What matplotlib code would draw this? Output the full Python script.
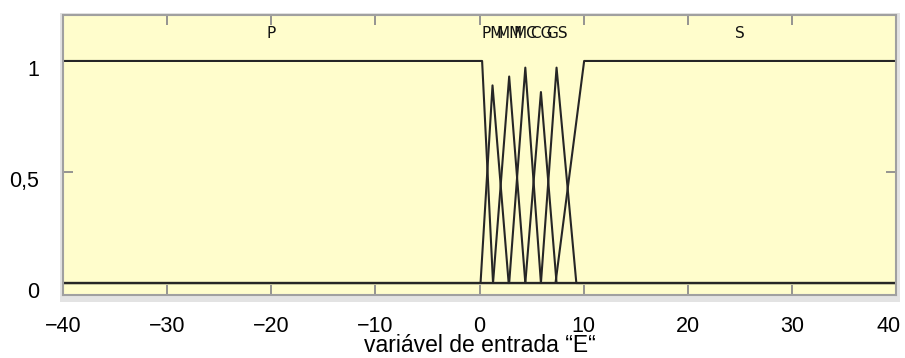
import matplotlib
matplotlib.use("Agg")
import matplotlib.pyplot as plt
from matplotlib.patches import Rectangle
from matplotlib.transforms import ScaledTranslation

# membership functions of input variable "E"
p_x = [-40, 0.25, 1.3, 40]
p_y = [1, 1, 0, 0]
s_x = [-40, 7.3, 10.05, 40]
s_y = [0, 0, 1, 1]

mid_names = ["PM", "MM", "MC", "CG", "GS"]
mid_left = [0.1, 1.3, 2.85, 4.4, 5.9]
mid_peak = [1.25, 2.85, 4.4, 5.9, 7.4]
mid_right = [2.8, 4.4, 5.9, 7.4, 9.3]
mid_height = [0.89, 0.93, 0.97, 0.86, 0.97]

xticks = [-40, -30, -20, -10, 0, 10, 20, 30, 40]
yticks = [0, 0.5, 1]
yticklabels = ["0", "0,5", "1"]

plt.rcParams['font.family'] = ['Liberation Sans', 'DejaVu Sans']

fig = plt.figure(figsize=(9.05, 3.58), dpi=100)
ax = fig.add_axes([63 / 905, 1 - 295 / 358, 833 / 905, 280 / 358])
ax.set_zorder(2)

# light grey border behind the plot box
shadow = Rectangle((60 / 905, 1 - 302 / 358), 840 / 905, 289 / 358,
                   transform=fig.transFigure, facecolor='#e3e3e3',
                   edgecolor='none', zorder=1)
fig.add_artist(shadow)

ax.set_facecolor('#fffdcc')
lc = '#262626'
lw = 1.5

ax.plot(p_x, p_y, color=lc, lw=lw)
ax.plot(s_x, s_y, color=lc, lw=lw)
for l, p, r, h in zip(mid_left, mid_peak, mid_right, mid_height):
    ax.plot([-40, l, p, r, 40], [0, 0, h, 0, 0], color=lc, lw=lw)

# labels above the functions
lab_y = 1.125
ax.text(-20, lab_y, "P", ha='center', va='center', fontsize=11,
        family='DejaVu Sans', color='#111')
ax.text(25, lab_y, "S", ha='center', va='center', fontsize=11,
        family='DejaVu Sans', color='#111')
for name, p in zip(mid_names, mid_peak):
    ax.text(p, lab_y, name, ha='center', va='center', fontsize=11,
            family='DejaVu Sans', color='#111')

ax.set_xlim(-40, 40)
ax.set_ylim(-0.054, 1.207)
ax.set_xticks(xticks)
ax.set_xticklabels([f"{t}".replace('-', '\u2212') for t in xticks])
ax.set_yticks(yticks)
ax.set_yticklabels(yticklabels)

ax.tick_params(axis='both', direction='in', length=7, width=1.3,
               color='#8c8c8c', labelsize=15.5, labelcolor='black')
ax.tick_params(axis='x', top=True, pad=15)
ax.tick_params(axis='y', right=True, pad=17)
for lab in ax.get_yticklabels():
    lab.set_transform(lab.get_transform() +
                      ScaledTranslation(0, -7 / 100, fig.dpi_scale_trans))
# keep the last x label inside the picture
last = ax.get_xticklabels()[-1]
last.set_transform(last.get_transform() +
                   ScaledTranslation(-7 / 100, 0, fig.dpi_scale_trans))

for sp in ax.spines.values():
    sp.set_color('#a0a0a0')
    sp.set_linewidth(1.5)

ax.set_xlabel("variável de entrada \u201cE\u201c", fontsize=16.5, labelpad=-2)

fig.savefig("out.png", dpi=100)
